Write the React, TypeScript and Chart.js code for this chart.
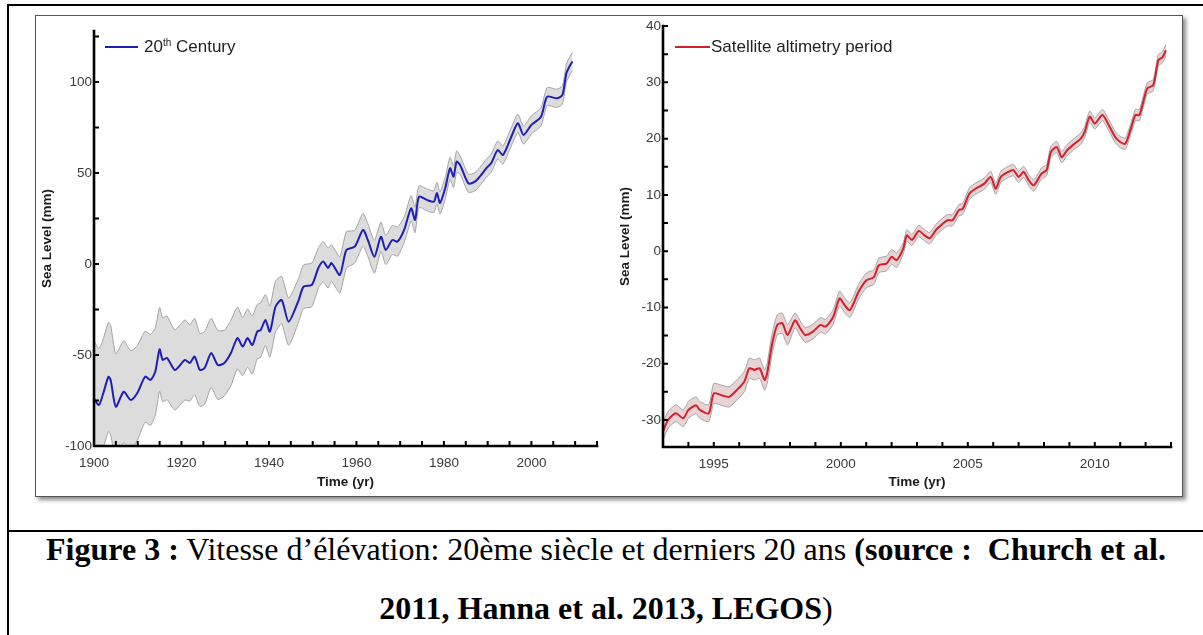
import React, { useEffect, useRef } from 'react';
import { Chart, registerables } from 'chart.js';

Chart.register(...registerables);
Chart.defaults.font.family = '"Liberation Sans", Arial, sans-serif';

// ---------- 20th century (left panel) ----------
const centuryYears = [
  1900.0, 1901.1, 1902.0, 1903.3, 1903.8, 1905.0, 1906.8, 1908.4, 1909.9, 1911.7,
  1912.9, 1914.0, 1915.0, 1915.7, 1916.7, 1918.5, 1920.8, 1921.9, 1923.0, 1924.2,
  1925.3, 1926.8, 1928.3, 1929.8, 1931.3, 1932.8, 1934.0, 1935.1, 1936.2, 1937.3,
  1938.1, 1939.2, 1940.2, 1941.5, 1942.9, 1944.5, 1946.8, 1947.9, 1949.8, 1951.3,
  1952.4, 1953.5, 1954.3, 1956.2, 1957.7, 1959.6, 1961.5, 1962.6, 1964.1, 1965.6,
  1966.7, 1968.2, 1969.4, 1970.9, 1972.5, 1973.4, 1974.3, 1976.1, 1977.7, 1978.4,
  1979.1, 1980.3, 1981.4, 1982.2, 1982.9, 1983.7, 1985.6, 1987.1, 1988.2, 1989.7,
  1990.8, 1992.3, 1993.5, 1995.1, 1996.9, 1998.2, 2000.0, 2002.2, 2003.6, 2005.8,
  2007.1, 2008.0, 2008.9, 2009.4,
];
const centuryLevel = [
  -74, -77.5, -72, -62, -63.7, -78.4, -70.2, -74.7, -70.9, -61.9,
  -63.7, -59.2, -46.9, -52.7, -51.6, -58.2, -52.7, -54.4, -50.9, -58.2,
  -57.1, -48.9, -55.5, -54.4, -48.9, -40.7, -45.4, -40.7, -44.5, -37.2,
  -36.3, -30.8, -37.2, -23.5, -19.8, -31.7, -19.8, -12.5, -11.5, -2.2,
  1.3, -2.2, 0.5, -6, 7.7, 9.5, 18.7, 13.2, 4, 15,
  7.7, 13.2, 12.3, 18.7, 30.6, 24.2, 37, 35.2, 34.2, 39,
  33.5, 41.6, 52.6, 48, 56.2, 54.4, 44.3, 45.2, 48, 52.6,
  55.3, 62.6, 59.9, 68.1, 77.3, 70.9, 76.4, 80.9, 91.9, 91,
  92.9, 104.8, 109.3, 111.2,
];
const centuryErr = [
  32, 31, 30, 30, 30, 29, 28, 27, 26, 25,
  25, 24, 23, 23, 23, 22, 22, 21, 21, 20,
  20, 19, 19, 18, 18, 17, 16, 16, 16, 15,
  15, 14, 14, 14, 13, 13, 12, 12, 12, 11,
  11, 11, 10, 10, 10, 9, 9, 9, 9, 8,
  8, 8, 8, 7, 7, 7, 6, 6, 6, 6,
  6, 6, 6, 6, 6, 5, 5, 5, 5, 5,
  5, 5, 5, 5, 5, 5, 5, 5, 5, 5,
  5, 5, 5, 5,
];
const centuryXLabels = [1900, 1920, 1940, 1960, 1980, 2000];
const centuryYLabels = [-100, -50, 0, 50, 100];

// ---------- Satellite altimetry (right panel) ----------
const satYears = [
  1993.0, 1993.2, 1993.5, 1993.8, 1994.0, 1994.3, 1994.45, 1994.8, 1995.0, 1995.3,
  1995.6, 1995.9, 1996.2, 1996.4, 1996.6, 1996.8, 1997.0, 1997.1, 1997.3, 1997.5,
  1997.7, 1997.9, 1998.2, 1998.4, 1998.6, 1998.9, 1999.2, 1999.4, 1999.7, 1999.95,
  2000.15, 2000.35, 2000.5, 2000.7, 2001.0, 2001.3, 2001.5, 2001.8, 2002.0, 2002.2,
  2002.46, 2002.6, 2002.8, 2003.07, 2003.3, 2003.5, 2003.75, 2003.97, 2004.2, 2004.4,
  2004.65, 2004.8, 2005.06, 2005.3, 2005.65, 2005.9, 2006.1, 2006.3, 2006.6, 2006.8,
  2007.0, 2007.2, 2007.4, 2007.6, 2007.9, 2008.1, 2008.27, 2008.5, 2008.7, 2008.9,
  2009.2, 2009.45, 2009.6, 2009.8, 2010.0, 2010.3, 2010.55, 2010.8, 2011.0, 2011.2,
  2011.4, 2011.6, 2011.76, 2012.06, 2012.3, 2012.5, 2012.67, 2012.8,
];
const satLevel = [
  -32, -30, -28.8, -29.7, -28.2, -27.4, -28.2, -28.8, -25.3, -25.6,
  -25.9, -24.7, -23.2, -20.8, -21.1, -20.8, -22.9, -21.7, -16.4, -13.1,
  -12.8, -14.9, -12.3, -13.7, -14.9, -14.3, -13.1, -13.4, -11.7, -8.4,
  -9.6, -10.5, -9.3, -7.2, -5.2, -4.6, -2.5, -2.2, -1, -1.6,
  0.5, 2.8, 2, 3.6, 2.8, 2.3, 3.8, 4.7, 5.5, 5.5,
  7.3, 7.5, 10.2, 11.1, 12, 13.2, 11.1, 13.2, 14.1, 14.4,
  13.2, 14.1, 12.6, 11.7, 13.8, 14.4, 17.6, 18.5, 16.7, 17.9,
  19.1, 20, 21.2, 23.9, 22.7, 24.2, 22.4, 20.3, 19.4, 19.1,
  21.5, 24.2, 24.2, 28.9, 29.5, 33.9, 34.5, 35.7,
];
const satErr = [
  1.5, 1.5, 1.5, 1.5, 1.5, 1.5, 1.5, 1.5, 1.8, 1.8,
  1.8, 1.8, 1.8, 1.8, 1.8, 1.8, 1.8, 1.8, 1.8, 1.8,
  1.8, 1.8, 1.3, 1.3, 1.3, 1.3, 1.3, 1.3, 1.3, 1.3,
  1.3, 1.3, 1.3, 1.3, 1.3, 1.3, 1.3, 1.3, 1.3, 1.3,
  1.0, 1.0, 1.0, 1.0, 1.0, 1.0, 1.0, 1.0, 1.0, 1.0,
  1.0, 1.0, 1.0, 1.0, 1.0, 1.0, 1.0, 1.0, 1.0, 1.0,
  1.0, 1.0, 1.0, 1.0, 1.0, 1.0, 1.0, 1.0, 1.0, 1.0,
  1.0, 1.0, 1.0, 1.0, 1.0, 1.0, 1.0, 1.0, 1.0, 1.0,
  1.0, 1.0, 1.0, 1.0, 1.0, 1.0, 1.0, 1.0,
];
const satXLabels = [1995, 2000, 2005, 2010];
const satYLabels = [-30, -20, -10, 0, 10, 20, 30, 40];

const has = (arr: number[], v: number) => arr.some((a) => Math.abs(a - v) < 1e-6);

// draws inward tick marks and the two thick axis lines
const inwardTicks = {
  id: 'inwardTicks',
  afterDatasetsDraw(chart: any) {
    const { ctx, chartArea: a, scales } = chart;
    const len = 5;
    ctx.save();
    ctx.strokeStyle = '#000';
    ctx.lineWidth = 2;
    ctx.beginPath();
    for (const t of scales.x.ticks) {
      const px = scales.x.getPixelForValue(t.value);
      ctx.moveTo(px, a.bottom);
      ctx.lineTo(px, a.bottom - len);
    }
    for (const t of scales.y.ticks) {
      const py = scales.y.getPixelForValue(t.value);
      ctx.moveTo(a.left, py);
      ctx.lineTo(a.left + len, py);
    }
    ctx.stroke();
    ctx.lineWidth = 2.6;
    ctx.lineCap = 'square';
    ctx.beginPath();
    ctx.moveTo(a.left, a.top);
    ctx.lineTo(a.left, a.bottom);
    ctx.lineTo(a.right, a.bottom);
    ctx.stroke();
    ctx.restore();
  },
};

type PanelSpec = {
  years: number[];
  level: number[];
  err: number[];
  label: string;
  lineColor: string;
  lineWidth: number;
  bandFill: string;
  bandEdge: string;
  xMin: number;
  xMax: number;
  xStep: number;
  xLabels: number[];
  yMin: number;
  yMax: number;
  yStep: number;
  yLabels: number[];
  yAxisWidth: number;
  xAxisHeight: number;
  padTop: number;
  padRight: number;
  yTitlePad: number;
  xTitlePad: number;
};

function makeConfig(p: PanelSpec): any {
  const main = p.years.map((x, i) => ({ x, y: p.level[i] }));
  const upper = p.years.map((x, i) => ({ x, y: p.level[i] + p.err[i] }));
  const lower = p.years.map((x, i) => ({ x, y: p.level[i] - p.err[i] }));
  const tickFont = { size: 13.5, family: '"Liberation Sans", Arial, sans-serif' };
  const titleFont = { size: 13.5, weight: 'bold' as const, family: '"Liberation Sans", Arial, sans-serif' };
  return {
    type: 'line',
    data: {
      datasets: [
        {
          label: p.label,
          data: main,
          borderColor: p.lineColor,
          borderWidth: p.lineWidth,
          pointRadius: 0,
          tension: 0.25,
          fill: false,
        },
        {
          label: 'upper',
          data: upper,
          borderColor: p.bandEdge,
          borderWidth: 1,
          pointRadius: 0,
          tension: 0.2,
          fill: '+1',
          backgroundColor: p.bandFill,
        },
        {
          label: 'lower',
          data: lower,
          borderColor: p.bandEdge,
          borderWidth: 1,
          pointRadius: 0,
          tension: 0.2,
          fill: false,
        },
      ],
    },
    options: {
      animation: false,
      responsive: false,
      devicePixelRatio: 1,
      layout: { padding: { top: p.padTop, right: p.padRight, left: 0, bottom: 0 } },
      plugins: {
        legend: { display: false },
        tooltip: { enabled: false },
        filler: { drawTime: 'beforeDatasetsDraw' },
      },
      scales: {
        x: {
          type: 'linear',
          min: p.xMin,
          max: p.xMax,
          afterFit: (s: any) => {
            s.height = p.xAxisHeight;
          },
          grid: { display: false, drawTicks: false },
          border: { display: false },
          ticks: {
            stepSize: p.xStep,
            autoSkip: false,
            includeBounds: false,
            maxRotation: 0,
            padding: 9,
            color: '#3a3a3a',
            font: tickFont,
            callback: (v: number) => (has(p.xLabels, v) ? String(v) : ''),
          },
          title: {
            display: true,
            text: 'Time (yr)',
            color: '#1a1a1a',
            font: titleFont,
            padding: { top: 0, bottom: p.xTitlePad },
          },
        },
        y: {
          type: 'linear',
          min: p.yMin,
          max: p.yMax,
          afterFit: (s: any) => {
            s.width = p.yAxisWidth;
          },
          grid: { display: false, drawTicks: false },
          border: { display: false },
          ticks: {
            stepSize: p.yStep,
            autoSkip: false,
            includeBounds: false,
            padding: 2,
            color: '#3a3a3a',
            font: tickFont,
            callback: (v: number) => (has(p.yLabels, v) ? String(v) : ''),
          },
          title: {
            display: true,
            text: 'Sea Level (mm)',
            color: '#1a1a1a',
            font: titleFont,
            padding: { top: p.yTitlePad, bottom: 0 },
          },
        },
      },
    },
    plugins: [inwardTicks],
  };
}

function Panel(props: { left: number; top: number; width: number; height: number; spec: PanelSpec }) {
  const ref = useRef<HTMLCanvasElement>(null);
  useEffect(() => {
    if (!ref.current) return;
    const chart = new Chart(ref.current, makeConfig(props.spec));
    return () => chart.destroy();
  }, []);
  return (
    <canvas
      ref={ref}
      width={props.width}
      height={props.height}
      style={{ position: 'absolute', left: props.left, top: props.top, width: props.width, height: props.height }}
    />
  );
}

const centurySpec: PanelSpec = {
  years: centuryYears,
  level: centuryLevel,
  err: centuryErr,
  label: '20th Century',
  lineColor: '#1f1fb4',
  lineWidth: 2,
  bandFill: '#dcdcdc',
  bandEdge: '#a3a3a3',
  xMin: 1900,
  xMax: 2015,
  xStep: 5,
  xLabels: centuryXLabels,
  yMin: -100,
  yMax: 128,
  yStep: 25,
  yLabels: centuryYLabels,
  yAxisWidth: 58,
  xAxisHeight: 48,
  padTop: 15,
  padRight: 4,
  yTitlePad: 3,
  xTitlePad: 4,
};

const satSpec: PanelSpec = {
  years: satYears,
  level: satLevel,
  err: satErr,
  label: 'Satellite altimetry period',
  lineColor: '#d2202c',
  lineWidth: 2,
  bandFill: '#e9d2d2',
  bandEdge: '#9ea6a6',
  xMin: 1993,
  xMax: 2013,
  xStep: 1,
  xLabels: satXLabels,
  yMin: -34.8,
  yMax: 40,
  yStep: 5,
  yLabels: satYLabels,
  yAxisWidth: 55,
  xAxisHeight: 47,
  padTop: 10,
  padRight: 8,
  yTitlePad: 9,
  xTitlePad: 4,
};

const legendText: React.CSSProperties = {
  position: 'absolute',
  fontFamily: '"Liberation Sans", Arial, sans-serif',
  fontSize: 17,
  color: '#222',
  lineHeight: '20px',
  whiteSpace: 'nowrap',
};

const captionLine: React.CSSProperties = {
  position: 'absolute',
  left: 9,
  width: 1194,
  textAlign: 'center',
  whiteSpace: 'pre',
  fontFamily: '"Liberation Serif", "Times New Roman", serif',
  fontSize: 32,
  lineHeight: '36px',
  color: '#000',
};

export default function App() {
  return (
    <div
      style={{
        position: 'absolute',
        left: 0,
        top: 0,
        width: 1203,
        height: 635,
        background: '#fff',
        overflow: 'hidden',
      }}
    >
      {/* table borders */}
      <div style={{ position: 'absolute', left: 7, top: 4, width: 1196, height: 2, background: '#000' }} />
      <div style={{ position: 'absolute', left: 7, top: 4, width: 2, height: 631, background: '#000' }} />
      <div style={{ position: 'absolute', left: 7, top: 530, width: 1196, height: 2, background: '#000' }} />

      {/* figure frame */}
      <div
        style={{
          position: 'absolute',
          left: 35,
          top: 15,
          width: 1146,
          height: 480,
          border: '1px solid #555',
          boxShadow: '3px 3px 4px rgba(0,0,0,0.45)',
          background: '#fff',
        }}
      />

      <Panel left={36} top={16} width={570} height={478} spec={centurySpec} />
      <Panel left={608} top={16} width={572} height={478} spec={satSpec} />

      {/* legends */}
      <div style={{ position: 'absolute', left: 105, top: 46, width: 33, height: 2, background: '#1f1fb4' }} />
      <div style={{ ...legendText, left: 144, top: 37 }}>
        20<sup style={{ fontSize: 10, verticalAlign: 'top', lineHeight: '12px' }}>th</sup> Century
      </div>
      <div style={{ position: 'absolute', left: 675, top: 46, width: 35, height: 2, background: '#d2202c' }} />
      <div style={{ ...legendText, left: 711, top: 37 }}>Satellite altimetry period</div>

      {/* caption */}
      <div style={{ ...captionLine, top: 531 }}>
        <b>Figure 3 :</b>
        {' Vitesse d’élévation: 20ème siècle et derniers 20 ans '}
        <b>{'(source :  Church et al.'}</b>
      </div>
      <div style={{ ...captionLine, top: 590 }}>
        <b>2011, Hanna et al. 2013, LEGOS</b>)
      </div>
    </div>
  );
}
